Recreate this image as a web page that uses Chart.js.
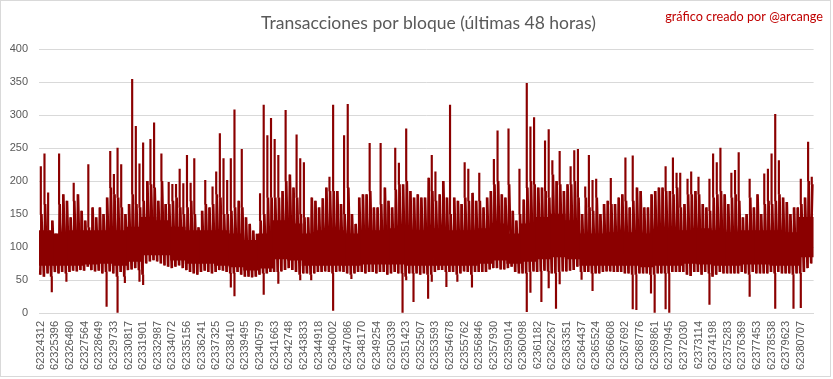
<!DOCTYPE html>
<html>
<head>
<meta charset="utf-8">
<script src="https://cdn.jsdelivr.net/npm/chart.js@4.4.1/dist/chart.umd.min.js"></script>
<style>html,body{margin:0;padding:0;background:#fff}canvas{display:block}</style>
</head>
<body>
<canvas id="c" width="833" height="379"></canvas>
<script>
const titleText = 'Transacciones por bloque (últimas 48 horas)';
const creditText = 'gráfico creado por @arcange';

// block-number tick labels (one every 4 bins)
const tickLabels = ['62324312','62325396','62326480','62327564','62328649','62329733','62330817','62331901','62332987','62334072','62335156','62336241','62337325','62338410','62339495','62340579','62341663','62342748','62343833','62344918','62346002','62347086','62348170','62349254','62350339','62351423','62352507','62353593','62354678','62355762','62356846','62357930','62359014','62360098','62361182','62362267','62363351','62364437','62365524','62366608','62367692','62368776','62369861','62370945','62372030','62373114','62374198','62375283','62376369','62377453','62378538','62379623','62380707'];
const binsPerTick = 4;

// dense core of transactions per block, per tick interval
const coreLow  = [72,72,72,74,75,72,78,88,88,80,75,75,72,70,65,68,82,80,72,72,72,72,74,74,74,72,72,72,72,72,75,80,75,78,82,85,82,72,72,72,72,70,72,72,75,74,72,72,74,74,72,72,85];
const coreHigh = [125,120,125,125,125,125,130,145,140,130,125,125,125,120,110,120,140,135,120,125,125,120,125,125,128,125,125,128,125,125,128,135,120,135,145,150,140,120,120,122,122,120,125,125,125,128,125,122,125,125,125,122,145];

// per-bin lower and upper envelope of transactions per block
const lows = [
58,55,60,55,62,60,62,60,62,64, 63,65,64,70,65,63,64,60,62,63,
60,55,62,55,65,66,68,65,58,75, 78,80,78,75,72,70,68,70,72,68,
65,62,60,58,62,64,62,60,62,65, 64,62,60,60,62,58,55,55,54,55,
58,60,60,62,62,62,63,65,68,65, 62,58,60,60,58,60,62,62,63,62,
60,62,63,62,60,58,60,62,62,60, 62,62,60,62,62,58,60,62,60,60,
55,60,60,60,58,60,58,58,62,65, 65,62,62,62,58,60,63,62,58,62,
62,62,62,66,68,68,66,66,68,70, 62,60,60,60,62,63,62,63,64,63,
60,60,62,63,63,64,65,70,62,62, 62,60,60,60,62,63,63,62,62,62,
60,60,58,58,60,60,60,58,58,60, 60,60,60,62,62,62,62,58,56,62,
62,58,62,60,55,58,62,60,60,60, 60,60,62,60,58,62,60,60,60,60,
62,60,62,60,60,60,58,60,60,62, 68,75];
const highs = [
150,165,125,140,120,165,180,170,145,170, 180,155,140,130,160,145,160,150,175,190,
180,175,160,150,165,180,165,160,170,200, 195,190,170,200,165,165,170,175,160,150,
160,170,150,130,155,165,160,165,180,175, 150,150,155,160,170,160,145,135,125,120,
140,150,175,175,175,175,185,200,210,190, 175,150,145,145,175,170,160,174,190,185,
185,185,165,150,190,150,135,175,180,180, 185,160,160,165,190,170,160,187,195,195,
200,185,175,180,175,175,205,185,170,180, 200,175,150,175,170,165,175,170,182,170,
170,160,175,185,195,200,180,175,195,155, 140,150,172,190,200,195,190,190,185,175,
210,200,195,185,195,195,200,175,150,175, 160,155,175,150,165,170,165,165,175,180,
170,160,170,190,185,160,160,180,185,190, 190,185,185,180,190,160,165,180,180,185,
180,165,160,155,175,180,185,180,165,175, 180,170,145,150,175,160,180,150,165,170,
165,170,180,175,168,150,160,160,165,175, 200,195];

// isolated peaks [bin, value] and deep drops [bin, value]
const spikePeaks = [[0,222],[1,241],[2,182],[5,241],[9,197],[13,225],[19,245],[20,210],[21,250],[22,225],[25,354],[26,283],[27,226],[28,258],[30,263],[31,288],[33,241],
[35,198],[36,195],[37,195],[38,218],[39,196],[40,239],[41,197],[42,234],[45,201],[47,191],[48,214],[49,272],[50,234],[51,201],[52,234],[53,308],[55,248],[60,181],[61,315],[62,269],[63,295],[64,263],[65,239],[67,307],
[70,270],[71,234],[72,228],[79,206],[80,315],[83,269],[84,316],[90,257],[93,257],[97,250],[98,227],[100,279],
[107,239],[108,214],[112,315],[116,228],[117,218],[120,212],[124,233],[125,276],[128,279],[131,218],[133,348],[134,282],[135,296],[138,261],[139,278],
[140,231],[142,245],[145,222],[146,246],[147,248],[149,191],[150,239],[151,201],[152,203],[156,204],[160,235],[162,238],[171,222],[173,235],[174,212],
[175,212],[177,203],[178,214],[180,206],[183,203],[184,241],[185,228],[186,250],[189,212],[190,216],[191,243],[194,203],[198,211],[199,218],[200,241],[201,301],[202,231],[208,203],[210,259],[211,206]];
const dipLows = [[3,32],[7,48],[18,10],[21,0],[23,46],[27,48],[28,43],[52,39],[53,26],[61,28],[65,45],[71,50],[74,50],[80,4],[85,52],[99,0],[100,50],[102,17],[106,22],[107,48],[111,40],[114,48],[118,39],[133,2],[134,31],[137,17],[139,38],[141,7],[142,44],[148,51],[151,34],[162,6],[163,5],[167,30],[168,0],[171,6],[172,1],[183,13],[194,25],[201,7],[206,7],[208,8]];

const RED = '#8b0000';
const nBins = lows.length;
const fineLabels = lows.map((_, i) => (i % binsPerTick === 0 && tickLabels[i / binsPerTick] !== undefined) ? tickLabels[i / binsPerTick] : '');
// zig-zag trace: low then high of each bin
const traceVals = [];
const traceLabels = [];
lows.forEach((l, i) => { traceVals.push(l, highs[i]); traceLabels.push(i + 'a', i + 'b'); });
const spikeData = new Array(nBins).fill(null);
spikePeaks.forEach(([b, v]) => { spikeData[b] = [highs[b], v]; });
const dipData = new Array(nBins).fill(null);
dipLows.forEach(([b, v]) => { dipData[b] = [v, lows[b]]; });

function fitSize(ctx, text, family, base, target) {
  ctx.font = base + 'px ' + family;
  return base * target / ctx.measureText(text).width;
}

const decor = {
  id: 'decor',
  beforeDraw(chart) {
    const ctx = chart.ctx;
    ctx.save();
    ctx.fillStyle = '#fff';
    ctx.fillRect(0, 0, chart.width, chart.height);
    ctx.restore();
  },
  afterDraw(chart) {
    const ctx = chart.ctx;
    ctx.save();
    const fam = 'Lato, "Open Sans", sans-serif';
    let s = fitSize(ctx, titleText, fam, 19, 335);
    ctx.font = s + 'px ' + fam;
    ctx.fillStyle = '#595959';
    ctx.textAlign = 'center';
    ctx.textBaseline = 'alphabetic';
    ctx.fillText(titleText, 428.5, 29);
    s = fitSize(ctx, creditText, fam, 13, 158);
    ctx.font = s + 'px ' + fam;
    ctx.fillStyle = '#c00000';
    ctx.textAlign = 'right';
    ctx.fillText(creditText, 823, 21);
    ctx.strokeStyle = '#d9d9d9';
    ctx.lineWidth = 1;
    ctx.strokeRect(0.5, 0.5, 830, 376);
    ctx.restore();
  }
};

const tickFont = { family: '"Liberation Sans", Arial, sans-serif', size: 11 };

new Chart(document.getElementById('c'), {
  type: 'bar',
  data: {
    labels: fineLabels,
    datasets: [
      { data: coreLow.map((l, k) => [l, coreHigh[k]]), xAxisID: 'x2', backgroundColor: RED, borderWidth: 0, grouped: false, barPercentage: 1, categoryPercentage: 1 },
      { type: 'line', data: traceVals, xAxisID: 'x3', borderColor: RED, borderWidth: 2, borderJoinStyle: 'bevel', pointRadius: 0, tension: 0, fill: false },
      { data: lows.map((l, i) => [l, highs[i]]), xAxisID: 'x', backgroundColor: RED, borderWidth: 0, grouped: false, barPercentage: 0.42, categoryPercentage: 1 },
      { data: spikeData, xAxisID: 'x', backgroundColor: RED, borderWidth: 0, grouped: false, barThickness: 1.5 },
      { data: dipData, xAxisID: 'x', backgroundColor: RED, borderWidth: 0, grouped: false, barThickness: 1.5 }
    ]
  },
  options: {
    responsive: false,
    devicePixelRatio: 1,
    animation: false,
    layout: { padding: { top: 49, right: 16, bottom: 0, left: 0 } },
    plugins: { legend: { display: false }, tooltip: { enabled: false }, title: { display: false } },
    scales: {
      x: {
        type: 'category',
        offset: true,
        grid: { display: false, drawTicks: false },
        border: { display: true, color: '#d9d9d9', width: 1 },
        ticks: { autoSkip: false, maxRotation: 90, minRotation: 90, padding: 8, color: '#595959', font: tickFont },
        afterFit(scale) { scale.height = 66; }
      },
      x2: { type: 'category', labels: tickLabels, offset: true, display: false },
      x3: { type: 'category', labels: traceLabels, offset: true, display: false },
      y: {
        min: 0, max: 400,
        ticks: { stepSize: 50, padding: 11, color: '#595959', font: tickFont },
        grid: { color: '#d9d9d9', drawTicks: false },
        border: { display: false },
        afterFit(scale) { scale.width = 39; }
      }
    }
  },
  plugins: [decor]
});
</script>
</body>
</html>
